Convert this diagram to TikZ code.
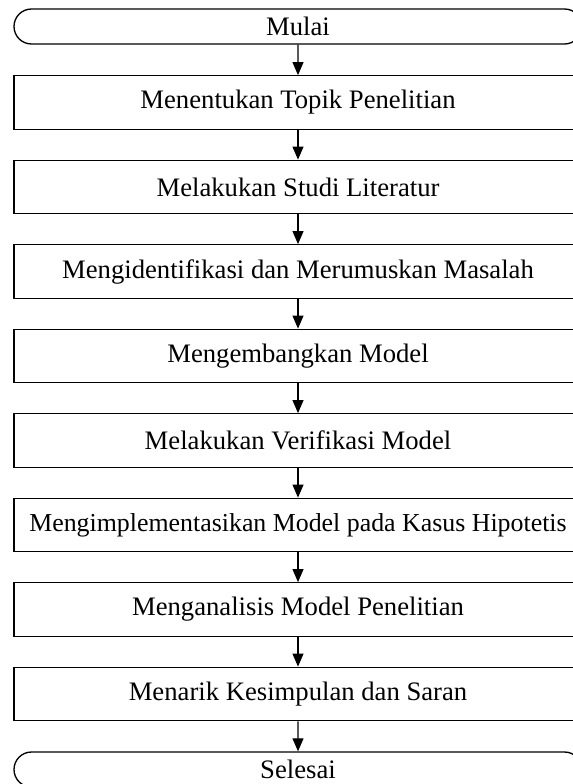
\documentclass[tikz,border=0pt]{standalone}
\usepackage{fontspec}
\setmainfont{Liberation Serif}
\usetikzlibrary{arrows.meta,shapes.misc}

\begin{document}
\begin{tikzpicture}[x=0.75pt, y=-0.75pt]
		\tikzstyle{every node}=[font=\fontsize{20}{24}\selectfont]
		\tikzstyle{terminal}=[draw, line width=1pt, rounded rectangle, minimum width=426pt, minimum height=26.25pt, inner sep=0pt]
		\tikzstyle{process}=[draw, line width=1pt, rectangle, minimum width=426pt, minimum height=40.1pt, inner sep=0pt]
		\tikzstyle{flow}=[line width=0.8pt, -{Triangle[length=9.75pt, width=8.25pt]}]
		\useasboundingbox (0,0) rectangle (573,784);
		\clip (0,0) rectangle (573,784);
		\node [terminal] (mulai) at (298,26.5) {Mulai};
		\node [process] (topik) at (298,102.5) {Menentukan Topik Penelitian};
		\node [process] (studi) at (298,187) {Melakukan Studi Literatur};
		\node [process] (masalah) at (298,271.5) {Mengidentifikasi dan Merumuskan Masalah};
		\node [process] (model) at (298,356) {Mengembangkan Model};
		\node [process] (verifikasi) at (298,440.5) {Melakukan Verifikasi Model};
		\node [process, font=\fontsize{19.4}{24}\selectfont] (implementasi) at (298,525) {Mengimplementasikan Model pada Kasus Hipotetis};
		\node [process] (analisis) at (298,609.5) {Menganalisis Model Penelitian};
		\node [process] (kesimpulan) at (298,694) {Menarik Kesimpulan dan Saran};
		\node [terminal] (selesai) at (298,769.5) {Selesai};
		\draw [flow] (mulai) -- (topik);
		\draw [flow] (topik) -- (studi);
		\draw [flow] (studi) -- (masalah);
		\draw [flow] (masalah) -- (model);
		\draw [flow] (model) -- (verifikasi);
		\draw [flow] (verifikasi) -- (implementasi);
		\draw [flow] (implementasi) -- (analisis);
		\draw [flow] (analisis) -- (kesimpulan);
		\draw [flow] (kesimpulan) -- (selesai);
\end{tikzpicture}
\end{document}
